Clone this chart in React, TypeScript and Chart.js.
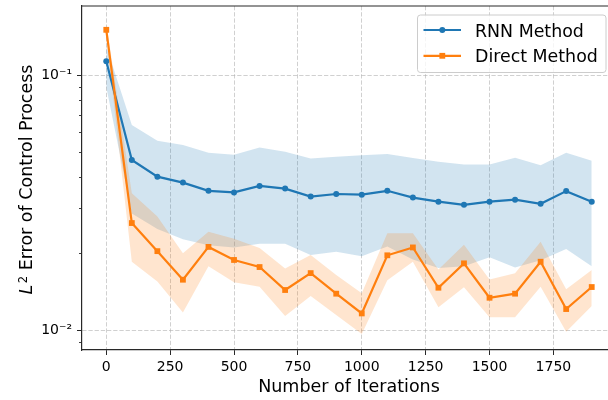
import { useEffect, useRef } from 'react';
import { Chart, registerables } from 'chart.js';

Chart.register(...registerables);

// Training iterations at which the control-process error was evaluated
const iterations = [0, 100, 200, 300, 400, 500, 600, 700, 800, 900, 1000, 1100, 1200, 1300, 1400, 1500, 1600, 1700, 1800, 1900];

// RNN method: mean error and spread band
const rnnMean = [0.1135, 0.0465, 0.04, 0.0379, 0.0352, 0.0347, 0.0368, 0.0359, 0.0334, 0.0342, 0.034, 0.0352, 0.0331, 0.0319, 0.031, 0.0319, 0.0325, 0.0313, 0.0351, 0.0319];
const rnnUpper = [0.13, 0.0638, 0.0553, 0.0532, 0.0496, 0.0488, 0.052, 0.0501, 0.0471, 0.0479, 0.0485, 0.0491, 0.0473, 0.0458, 0.0446, 0.0446, 0.0475, 0.0443, 0.0496, 0.0462];
const rnnLower = [0.09, 0.0287, 0.0249, 0.0227, 0.0215, 0.0211, 0.0218, 0.0218, 0.0197, 0.0203, 0.0195, 0.0213, 0.0189, 0.0175, 0.0178, 0.0193, 0.0176, 0.0188, 0.0208, 0.0178];

// Direct method: mean error and spread band
const directMean = [0.1508, 0.0263, 0.0204, 0.01576, 0.0212, 0.01884, 0.01767, 0.01436, 0.01673, 0.01389, 0.01162, 0.01965, 0.0211, 0.01466, 0.01827, 0.01339, 0.01389, 0.01854, 0.01209, 0.01475];
const directUpper = [0.16, 0.0344, 0.0279, 0.02, 0.0243, 0.0228, 0.021, 0.01746, 0.0197, 0.01644, 0.01393, 0.024, 0.024, 0.0173, 0.0216, 0.0158, 0.0167, 0.0222, 0.01445, 0.0172];
const directLower = [0.142, 0.01854, 0.0155, 0.01173, 0.0178, 0.0154, 0.01479, 0.01136, 0.0136, 0.01146, 0.00964, 0.0157, 0.01855, 0.01228, 0.01472, 0.01122, 0.01122, 0.01479, 0.00985, 0.01242];

// Axis ticks
const xTickValues = [0, 250, 500, 750, 1000, 1250, 1500, 1750];
const yMajorTicks = [0.01, 0.1];
const yMajorLabels = ['10⁻²', '10⁻¹'];
const yMinorTicks = [0.009, 0.02, 0.03, 0.04, 0.05, 0.06, 0.07, 0.08, 0.09];

const seriesLabels = ['RNN Method', 'Direct Method'];
const xTitle = 'Number of Iterations';
const yTitleRest = ' Error of Control Process';

const BLUE = '#1f77b4';
const ORANGE = '#ff7f0e';
const BLUE_BAND = 'rgba(31,119,180,0.2)';
const ORANGE_BAND = 'rgba(255,127,14,0.2)';
const SPINE = 'rgb(40,40,40)';
const GRID = 'rgba(176,176,176,0.6)';
const DASH = [4.3, 1.9];
const FONT = '"DejaVu Sans", sans-serif';

const pts = (ys: number[]) => iterations.map((x, i) => ({ x, y: ys[i] }));

const framePlugin = {
  id: 'frameAndLegend',
  afterDraw(chart: any) {
    const { ctx, chartArea } = chart;
    const { left, right, top, bottom } = chartArea;
    const yScale = chart.scales.y;
    ctx.save();

    // top and right spines
    ctx.strokeStyle = SPINE;
    ctx.lineWidth = 1.2;
    ctx.beginPath();
    ctx.moveTo(left, top);
    ctx.lineTo(right, top);
    ctx.lineTo(right, bottom);
    ctx.stroke();

    // minor log ticks
    ctx.lineWidth = 0.9;
    for (const v of yMinorTicks) {
      const y = Math.round(yScale.getPixelForValue(v)) + 0.5;
      ctx.beginPath();
      ctx.moveTo(left - 3, y);
      ctx.lineTo(left, y);
      ctx.stroke();
    }

    // y axis title: italic L with superscript 2
    ctx.fillStyle = '#000';
    ctx.textBaseline = 'alphabetic';
    ctx.textAlign = 'left';
    ctx.translate(25, 179.5);
    ctx.rotate(-Math.PI / 2);
    const mainFont = `17.5px ${FONT}`;
    const italicFont = `italic 17.5px ${FONT}`;
    const supFont = `11.5px ${FONT}`;
    ctx.font = italicFont;
    const wL = ctx.measureText('L').width;
    ctx.font = supFont;
    const w2 = ctx.measureText('2').width;
    ctx.font = mainFont;
    const wRest = ctx.measureText(yTitleRest).width;
    let x0 = -(wL + 1.5 + w2 + wRest) / 2;
    ctx.font = italicFont;
    ctx.fillText('L', x0, 6.5);
    x0 += wL + 1.5;
    ctx.font = supFont;
    ctx.fillText('2', x0, 1.5);
    x0 += w2;
    ctx.font = mainFont;
    ctx.fillText(yTitleRest, x0, 6.5);
    ctx.setTransform(1, 0, 0, 1, 0, 0);

    // legend box
    const bx = 417.5, by = 15, bw = 188.5, bh = 57.5, r = 3;
    ctx.beginPath();
    ctx.moveTo(bx + r, by);
    ctx.lineTo(bx + bw - r, by);
    ctx.arcTo(bx + bw, by, bx + bw, by + r, r);
    ctx.lineTo(bx + bw, by + bh - r);
    ctx.arcTo(bx + bw, by + bh, bx + bw - r, by + bh, r);
    ctx.lineTo(bx + r, by + bh);
    ctx.arcTo(bx, by + bh, bx, by + bh - r, r);
    ctx.lineTo(bx, by + r);
    ctx.arcTo(bx, by, bx + r, by, r);
    ctx.closePath();
    ctx.fillStyle = 'rgba(255,255,255,0.8)';
    ctx.fill();
    ctx.strokeStyle = 'rgb(204,204,204)';
    ctx.lineWidth = 1;
    ctx.stroke();

    const colors = [BLUE, ORANGE];
    seriesLabels.forEach((label, i) => {
      const cy = 30 + i * 25.8;
      ctx.strokeStyle = colors[i];
      ctx.lineWidth = 2.2;
      ctx.beginPath();
      ctx.moveTo(423.5, cy);
      ctx.lineTo(461, cy);
      ctx.stroke();
      ctx.fillStyle = colors[i];
      if (i === 0) {
        ctx.beginPath();
        ctx.arc(442.3, cy, 3, 0, Math.PI * 2);
        ctx.fill();
      } else {
        ctx.fillRect(442.3 - 2.9, cy - 2.9, 5.8, 5.8);
      }
      ctx.fillStyle = '#000';
      ctx.font = `17.4px ${FONT}`;
      ctx.textBaseline = 'alphabetic';
      ctx.fillText(label, 475, cy + 6.5);
    });

    ctx.restore();
  },
};

export default function App() {
  const canvasRef = useRef<HTMLCanvasElement | null>(null);

  useEffect(() => {
    const canvas = canvasRef.current;
    if (!canvas) return;
    const band = (data: number[], color: string, fill: any, order: number) => ({
      data: pts(data),
      borderWidth: 0,
      borderColor: 'rgba(0,0,0,0)',
      backgroundColor: color,
      pointRadius: 0,
      fill,
      order,
      tension: 0,
    });
    const chart = new Chart(canvas, {
      type: 'line',
      data: {
        datasets: [
          band(rnnUpper, BLUE_BAND, '+1', 4),
          band(rnnLower, BLUE_BAND, false, 4),
          band(directUpper, ORANGE_BAND, '+1', 3),
          band(directLower, ORANGE_BAND, false, 3),
          {
            label: seriesLabels[0],
            data: pts(rnnMean),
            borderColor: BLUE,
            backgroundColor: BLUE,
            borderWidth: 2.2,
            pointStyle: 'circle',
            pointRadius: 3,
            pointBorderWidth: 0,
            fill: false,
            order: 2,
            tension: 0,
          },
          {
            label: seriesLabels[1],
            data: pts(directMean),
            borderColor: ORANGE,
            backgroundColor: ORANGE,
            borderWidth: 2.2,
            pointStyle: 'rect',
            pointRadius: 4.1,
            pointBorderWidth: 0,
            fill: false,
            order: 1,
            tension: 0,
          },
        ],
      },
      options: {
        responsive: false,
        animation: false,
        devicePixelRatio: 1,
        layout: { padding: { top: 6, right: 24, left: 0, bottom: 0 } },
        plugins: {
          legend: { display: false },
          tooltip: { enabled: false },
          title: { display: false },
        },
        scales: {
          x: {
            type: 'linear',
            min: -95,
            max: 1995,
            afterBuildTicks: (scale: any) => {
              scale.ticks = xTickValues.map((v) => ({ value: v }));
            },
            afterFit: (scale: any) => {
              scale.height = 50;
              scale.paddingLeft = 0;
              scale.paddingRight = 0;
            },
            ticks: {
              color: '#000',
              font: { family: FONT, size: 14 },
              padding: 4,
              maxRotation: 0,
              autoSkip: false,
              callback: (v: any) => String(v),
            },
            grid: {
              color: GRID,
              lineWidth: 1,
              tickColor: SPINE,
              tickWidth: 1,
              tickLength: 5,
              tickBorderDash: [],
            } as any,
            border: { color: SPINE, width: 1.2, dash: DASH },
            title: {
              display: true,
              text: xTitle,
              color: '#000',
              font: { family: FONT, size: 17.5 },
              padding: { top: 0, bottom: 2 },
            },
          },
          y: {
            type: 'logarithmic',
            min: 0.00835,
            max: 0.187,
            afterBuildTicks: (scale: any) => {
              scale.ticks = yMajorTicks.map((v) => ({ value: v, major: true }));
            },
            afterFit: (scale: any) => {
              scale.width = 82;
              scale.paddingTop = 0;
              scale.paddingBottom = 0;
            },
            ticks: {
              color: '#000',
              font: { family: FONT, size: 14 },
              padding: 5,
              autoSkip: false,
              callback: (v: any) => {
                const i = yMajorTicks.findIndex((t) => Math.abs(t - Number(v)) < 1e-9);
                return i >= 0 ? yMajorLabels[i] : '';
              },
            },
            grid: {
              color: GRID,
              lineWidth: 1,
              tickColor: SPINE,
              tickWidth: 1,
              tickLength: 5,
              tickBorderDash: [],
            } as any,
            border: { color: SPINE, width: 1.2, dash: DASH },
          },
        },
      },
      plugins: [framePlugin],
    });
    return () => chart.destroy();
  }, []);

  return (
    <div style={{ position: 'fixed', left: 0, top: 0, width: 608, height: 400, overflow: 'hidden', background: '#fff' }}>
      <canvas ref={canvasRef} width={640} height={400} style={{ width: 640, height: 400, display: 'block' }} />
    </div>
  );
}
